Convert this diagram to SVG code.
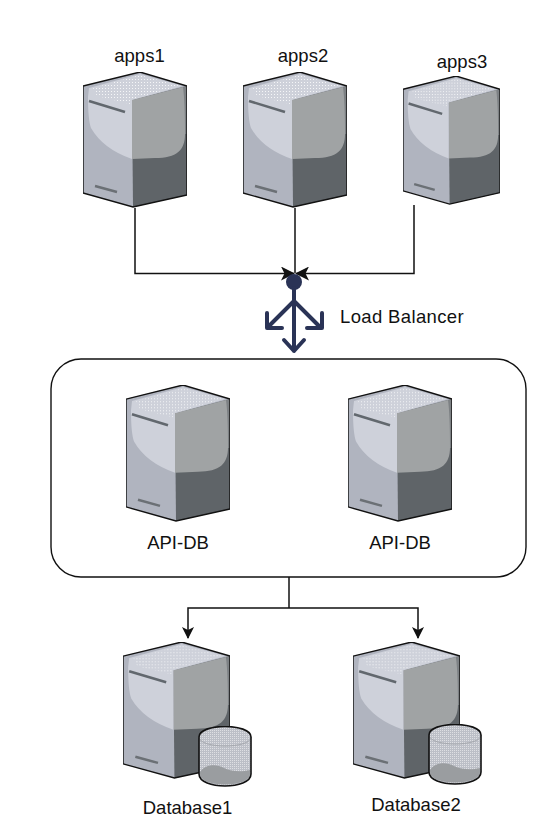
<svg xmlns="http://www.w3.org/2000/svg" width="544" height="834" viewBox="0 0 544 834">
<style>
text{font-family:"Liberation Sans",Arial,sans-serif;font-size:18.500px;fill:#111;text-anchor:middle}
.c{fill:none;stroke:#111;stroke-width:1.5}
.lb{fill:none;stroke:#2a3356;stroke-width:4;stroke-linecap:round;stroke-linejoin:round}
</style>
<defs>
<pattern id="dots" width="3" height="3" patternUnits="userSpaceOnUse"><rect x="1" y="1" width="1" height="1" fill="#fff" opacity="0.8"/></pattern>
<pattern id="sp" width="2" height="2" patternUnits="userSpaceOnUse"><rect width="1" height="1" fill="#fff" opacity="0.5"/></pattern>
<marker id="ah" viewBox="0 0 14 14" refX="13" refY="7" markerWidth="14" markerHeight="14" markerUnits="userSpaceOnUse" orient="auto"><path d="M0,0 L14,7 L0,14 L3.500,7Z" fill="#111"/></marker>
<marker id="ah2" viewBox="0 0 12 12" refX="11" refY="6" markerWidth="12" markerHeight="12" markerUnits="userSpaceOnUse" orient="auto"><path d="M0,0 L12,6 L0,12 L3,6Z" fill="#111"/></marker>
<symbol id="srv" viewBox="0 0 104 136" preserveAspectRatio="none">
<path d="M0,14 L57,0 L104,14 L104,123 L50,135 L0,121Z" fill="#b0b4bf"/>
<path d="M49,28 L104,14 L104,123 L50,135Z" fill="#5f6468"/>
<path d="M49,28 L104,14 L104,62 L102,62 C102,78 94,86 72,86 L49,87Z" fill="#a0a3a4"/>
<path d="M100,15 L104,14 L104,62 L102,62 Q102,30 100,15Z" fill="#7d8184"/>
<path d="M6,16 L57,2 L100,14 L49,28 L49,87 Q20,77 8,56 Q5,48 5,25Z" fill="#ced1da"/>
<path d="M10,16 L57,3 L97,14 L49,27 L47,32 L14,24Z" fill="url(#dots)"/>
<path d="M6,29 L42,40" stroke="#62686e" stroke-width="2.500" fill="none"/>
<path d="M12,114 L34,120" stroke="#6b7075" stroke-width="2.500" fill="none"/>
<path d="M0,14 L57,0 L104,14 L104,123 L50,135 L0,121Z" fill="none" stroke="#111" stroke-width="1.400"/>
</symbol>
<symbol id="cyl" viewBox="0 0 54 61" preserveAspectRatio="none">
<path d="M1,11 C1,-3 53,-3 53,11 L53,48 C53,64 1,64 1,48Z" fill="#bcbfc7"/>
<path d="M1,11 C1,-3 53,-3 53,11 L53,48 C53,64 1,64 1,48Z" fill="url(#sp)"/>
<path d="M1,11 C1,23 53,23 53,11" fill="none" stroke="#a6a9af" stroke-width="1"/>
<path d="M2,46 C8,38 18,38 26,42 C34,46 44,46 52,44 L52,48 C52,62 2,62 2,48Z" fill="#9a9da0"/>
<path d="M1,11 C1,-3 53,-3 53,11 L53,48 C53,64 1,64 1,48Z" fill="none" stroke="#111" stroke-width="1.600"/>
</symbol>
</defs>
<g id="connectors">
<path class="c" d="M135,208 L135,273.500 L294,273.500" marker-end="url(#ah)"/>
<path class="c" d="M295,208 L295,273"/>
<path class="c" d="M414,205 L414,273.500 L296,273.500" marker-end="url(#ah)"/>
<path class="c" d="M289,577 L289,608"/>
<path class="c" d="M289,608 L188,608 L188,638" marker-end="url(#ah2)"/>
<path class="c" d="M289,608 L418,608 L418,638" marker-end="url(#ah2)"/>
</g>
<g id="apps1"><use href="#srv" x="83" y="72" width="104" height="136"/><text x="139.500" y="62">apps1</text></g>
<g id="apps2"><use href="#srv" x="243" y="72" width="104" height="136"/><text x="303" y="62">apps2</text></g>
<g id="apps3"><use href="#srv" x="403" y="76" width="97" height="129"/><text x="462" y="68">apps3</text></g>
<g id="load-balancer">
<circle cx="294" cy="282" r="8" fill="#2a3356"/>
<path class="lb" d="M294,288 L294,351 M294,301 L268,327 M294,301 L320,327 M267,313 L267,328 L282,328 M322,313 L322,328 L307,328 M284,340 L294,351 L304,340"/>
<text x="402" y="323" style="letter-spacing:.35px">Load Balancer</text>
</g>
<g id="api-group"><rect x="51" y="359" width="475" height="218" rx="30" fill="#fff" stroke="#111" stroke-width="1.400"/></g>
<g id="api-db1"><use href="#srv" x="126" y="385" width="104" height="137"/><text x="178" y="549">API-DB</text></g>
<g id="api-db2"><use href="#srv" x="348" y="385" width="104" height="137"/><text x="400" y="549">API-DB</text></g>
<g id="database1"><use href="#srv" x="123" y="642" width="107" height="137"/><use href="#cyl" x="198" y="726" width="54" height="61"/><text x="187.500" y="814">Database1</text></g>
<g id="database2"><use href="#srv" x="353" y="642" width="107" height="137"/><use href="#cyl" x="428" y="724" width="54" height="61"/><text x="416" y="811">Database2</text></g>
</svg>
